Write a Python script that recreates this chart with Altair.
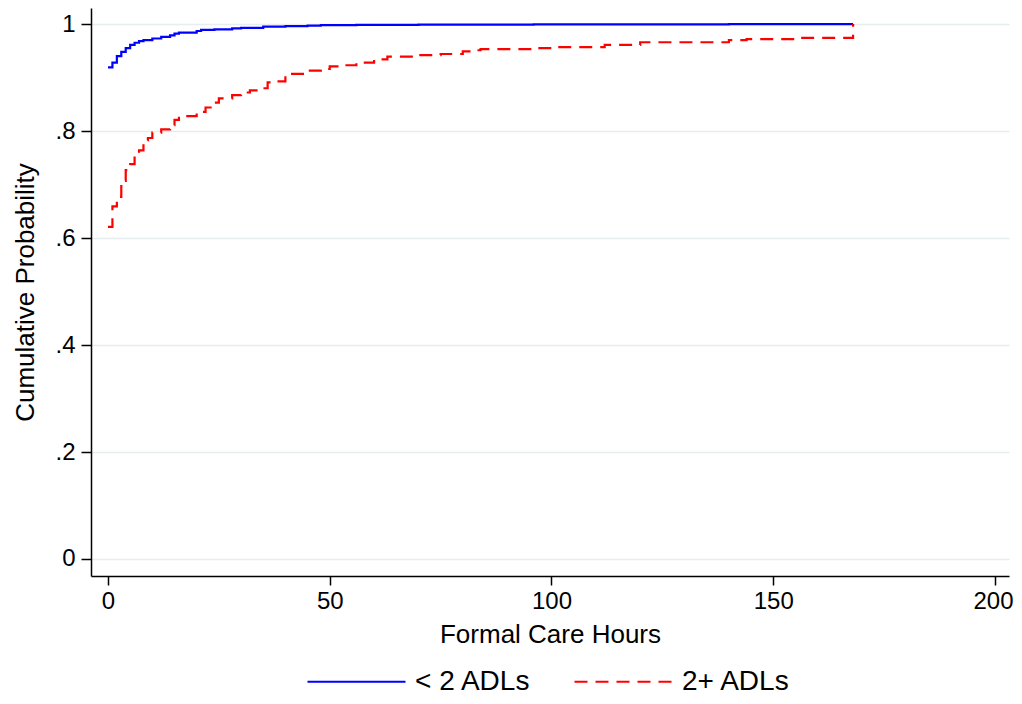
import altair as alt
import pandas as pd

# Series: < 2 ADLs (blue, solid)
blue_hours = [0, 1, 2, 3, 4, 5, 6, 7, 8, 10, 12, 14, 15, 16, 20, 21, 24, 28, 30, 35, 40, 45, 48, 56, 70, 96, 112, 140, 168]
blue_prob = [0.919, 0.928, 0.940, 0.948, 0.955, 0.961, 0.965, 0.968, 0.970, 0.973, 0.976, 0.979, 0.982, 0.984,
             0.987, 0.989, 0.990, 0.992, 0.993, 0.995, 0.996, 0.997, 0.998, 0.9985, 0.999, 0.9993, 0.9995, 0.9997, 1.0]

# Series: 2+ ADLs (red, dashed)
red_hours = [0, 1, 2, 3, 4, 5, 6, 7, 8, 9, 10, 12, 14, 15, 16, 20, 22, 24, 25, 28, 30, 32, 34, 36, 38, 40,
             45, 48, 50, 52, 56, 60, 63, 70, 75, 80, 82, 84, 96, 100, 112, 120, 140, 144, 156, 168, 168]
red_prob = [0.621, 0.659, 0.677, 0.707, 0.727, 0.738, 0.757, 0.764, 0.783, 0.787, 0.797, 0.803, 0.811, 0.821,
            0.828, 0.836, 0.844, 0.853, 0.861, 0.867, 0.872, 0.876, 0.880, 0.891, 0.893, 0.907,
            0.913, 0.916, 0.921, 0.923, 0.928, 0.934, 0.939, 0.942, 0.944, 0.949, 0.951, 0.953, 0.955, 0.957,
            0.961, 0.966, 0.970, 0.972, 0.974, 0.975, 1.0]

groups = ["< 2 ADLs", "2+ ADLs"]
colors = ["#0000FF", "#FF0000"]
dashes = [[1, 0], [13, 8]]

x_ticks = [0, 50, 100, 150, 200]
y_ticks = [0, 0.2, 0.4, 0.6, 0.8, 1.0]

rows = []
for i, (h, p) in enumerate(zip(blue_hours, blue_prob)):
    rows.append({"hours": h, "prob": p, "group": groups[0], "order": i})
for i, (h, p) in enumerate(zip(red_hours, red_prob)):
    rows.append({"hours": h, "prob": p, "group": groups[1], "order": i})
df = pd.DataFrame(rows)

FONT = "Liberation Sans, Arial, Helvetica, sans-serif"


def make_legend():
    return alt.Legend(title=None, orient="none", direction="horizontal",
                      legendX=215, legendY=623, symbolType="stroke",
                      symbolSize=9604, symbolStrokeWidth=2.2,
                      labelFontSize=28, labelOffset=8, columnPadding=39,
                      padding=0, labelFont=FONT, labelColor="black")


chart = alt.Chart(df).mark_line(
    interpolate="step-after", strokeWidth=2.2, clip=True
).encode(
    x=alt.X("hours:Q",
            scale=alt.Scale(domain=[-3.83, 203.16], nice=False, zero=False),
            axis=alt.Axis(values=x_ticks, title="Formal Care Hours", grid=False,
                          tickSize=9, labelPadding=4, labelFontSize=24,
                          labelFlush=15, labelFlushOffset=18,
                          titleFontSize=26, titleY=66, titleBaseline="alphabetic",
                          titleFontWeight="normal")),
    y=alt.Y("prob:Q",
            scale=alt.Scale(domain=[-0.0318, 1.030], nice=False, zero=False),
            axis=alt.Axis(values=y_ticks, title="Cumulative Probability", grid=True,
                          tickSize=10, labelPadding=6, labelFontSize=24,
                          labelExpr="datum.value == 0 ? '0' : datum.value == 1 ? '1' : replace(format(datum.value, '.1f'), '0.', '.')",
                          titleFontSize=26, titleX=-58, titleY=284, titleAngle=270,
                          titleBaseline="alphabetic", titleAlign="center",
                          titleFontWeight="normal")),
    color=alt.Color("group:N", scale=alt.Scale(domain=groups, range=colors),
                    legend=make_legend()),
    strokeDash=alt.StrokeDash("group:N", scale=alt.Scale(domain=groups, range=dashes),
                              legend=make_legend()),
    order="order:Q",
).properties(
    width=918, height=568,
    autosize=alt.AutoSizeParams(type="none"),
    padding={"left": 83, "top": 0, "right": 5, "bottom": 120},
).configure(
    font=FONT,
    background="white",
).configure_view(
    stroke=None,
).configure_axis(
    domainColor="black", domainWidth=1.5, tickColor="black", tickWidth=1.5,
    labelColor="black", titleColor="black", gridColor="#E6EEF0", gridWidth=1.5,
    labelFont=FONT, titleFont=FONT,
)

chart.save("out.html", embed_options={"renderer": "svg", "actions": False})
